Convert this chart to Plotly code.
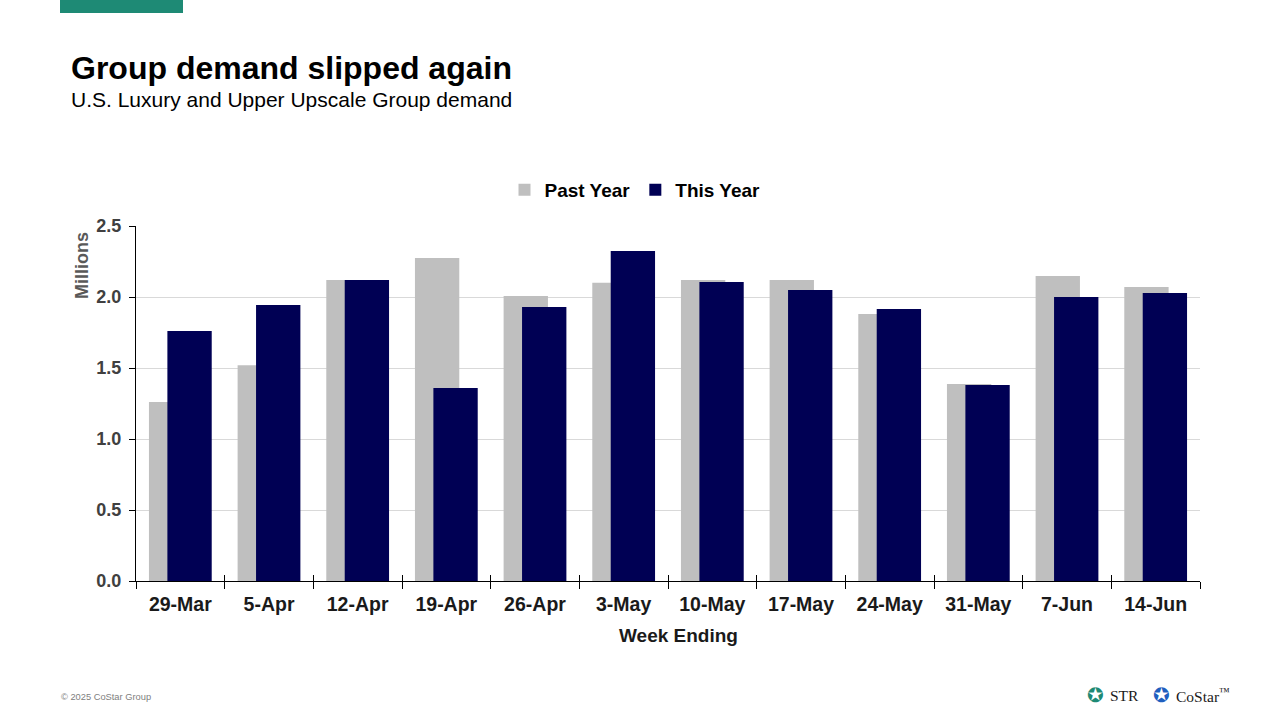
import plotly.graph_objects as go

weeks = ["29-Mar", "5-Apr", "12-Apr", "19-Apr", "26-Apr", "3-May",
         "10-May", "17-May", "24-May", "31-May", "7-Jun", "14-Jun"]
past_year = [1.26, 1.52, 2.12, 2.275, 2.007, 2.10, 2.12, 2.12, 1.88, 1.387, 2.148, 2.07]
this_year = [1.76, 1.944, 2.12, 1.36, 1.93, 2.324, 2.106, 2.05, 1.915, 1.38, 2.0, 2.028]
y_ticks = [0.0, 0.5, 1.0, 1.5, 2.0, 2.5]

FONT = "Liberation Sans, Arial, sans-serif"
L, R, T, B = 136, 80, 226, 139
PW, PH = 1280 - L - R, 720 - T - B


def px(x):
    return (x - L) / PW


def py(y):
    return (720 - B - y) / PH


fig = go.Figure()
fig.add_trace(go.Bar(x=weeks, y=past_year, name="Past Year",
                     marker=dict(color="#bfbfbf", line=dict(width=0)),
                     offset=-0.354, width=0.5))
fig.add_trace(go.Bar(x=weeks, y=this_year, name="This Year",
                     marker=dict(color="#000054", line=dict(width=0)),
                     offset=-0.146, width=0.5))
# helper (invisible) trace so the overlay axis for inner tick marks is drawn
fig.add_trace(go.Scatter(x=weeks, y=past_year, xaxis="x2", mode="markers",
                         marker=dict(opacity=0), showlegend=False, hoverinfo="skip"))

fig.update_layout(
    autosize=False, width=1280, height=720,
    margin=dict(l=L, r=R, t=T, b=B),
    paper_bgcolor="white", plot_bgcolor="white",
    barmode="overlay",
    font=dict(family=FONT, color="#000000"),
    showlegend=True,
    legend=dict(orientation="h", x=px(635), xanchor="center", y=py(190), yanchor="middle",
                font=dict(size=19, weight="bold", color="#000000"),
                itemwidth=30, traceorder="normal", bgcolor="rgba(0,0,0,0)"),
    xaxis=dict(type="category", categoryarray=weeks, range=[-0.5, 11.5],
               tickson="boundaries", ticks="outside", ticklen=7, tickcolor="#000000",
               showline=True, linecolor="#000000", linewidth=1,
               showgrid=False, zeroline=False, ticklabelstandoff=6,
               tickfont=dict(size=19.5, weight="bold", color="#1a1a1a", family=FONT)),
    xaxis2=dict(type="category", categoryarray=weeks, range=[-0.5, 11.5],
                overlaying="x", anchor="y", side="bottom",
                tickson="boundaries", ticks="inside", ticklen=6, tickcolor="#000000",
                showticklabels=False, showgrid=False, showline=False, zeroline=False),
    yaxis=dict(range=[0, 2.5], tickvals=y_ticks,
               ticktext=[f"{v:.1f}" for v in y_ticks],
               ticks="outside", ticklen=6, tickcolor="#000000",
               showline=True, linecolor="#000000", linewidth=1,
               showgrid=True, gridcolor="#d9d9d9", gridwidth=1, zeroline=False,
               ticklabelstandoff=4,
               tickfont=dict(size=18, weight="bold", color="#404040", family=FONT)),
)

fig.add_shape(type="rect", xref="paper", yref="paper",
              x0=px(60), x1=px(183), y0=py(13), y1=py(-2),
              fillcolor="#1e8a75", line=dict(width=0), layer="above")

annotations = [
    dict(text="<b>Group demand slipped again</b>", x=px(69), y=py(68),
         xanchor="left", yanchor="middle", font=dict(size=32, color="#000000")),
    dict(text="U.S. Luxury and Upper Upscale Group demand", x=px(69), y=py(99),
         xanchor="left", yanchor="middle", font=dict(size=21, color="#000000")),
    dict(text="<b>Millions</b>", x=px(82), y=py(266), textangle=-90,
         xanchor="center", yanchor="middle", font=dict(size=18, color="#595959")),
    dict(text="<b>Week Ending</b>", x=px(678), y=py(635),
         xanchor="center", yanchor="middle", font=dict(size=19, color="#1a1a1a")),
    dict(text="© 2025 CoStar Group", x=px(59), y=py(697),
         xanchor="left", yanchor="middle", font=dict(size=9.3, color="#808080")),
    dict(text="✪", x=px(1095), y=py(695), xanchor="center", yanchor="middle",
         font=dict(size=20, color="#1e8a75", family="DejaVu Sans")),
    dict(text="STR", x=px(1108), y=py(695), xanchor="left", yanchor="middle",
         font=dict(size=15.5, color="#1a1a1a", family="Liberation Serif")),
    dict(text="✪", x=px(1161), y=py(695), xanchor="center", yanchor="middle",
         font=dict(size=20, color="#1f5fbf", family="DejaVu Sans")),
    dict(text="CoStar<sup>™</sup>", x=px(1174), y=py(695), xanchor="left", yanchor="middle",
         font=dict(size=15.5, color="#1a1a1a", family="Liberation Serif")),
]
for a in annotations:
    a.update(xref="paper", yref="paper", showarrow=False)
    fig.add_annotation(**a)

fig.write_html("out.html", config={"displayModeBar": False},
               post_script="document.body.style.margin='0';")
